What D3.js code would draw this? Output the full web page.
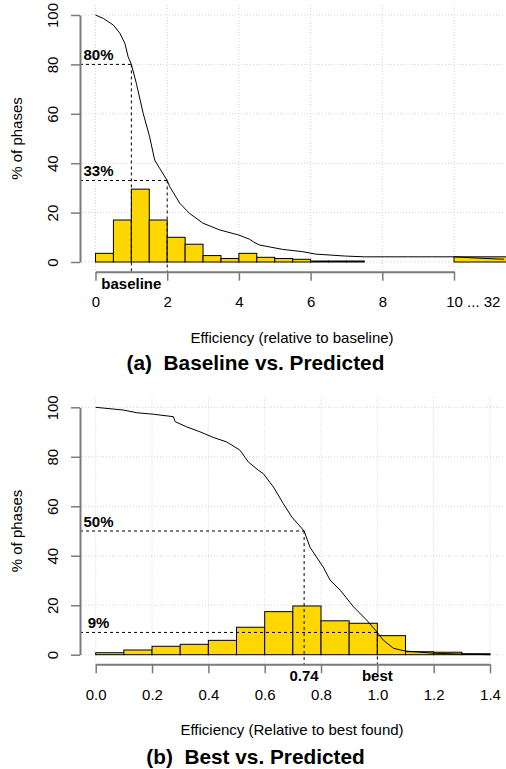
<!DOCTYPE html>
<html>
<head>
<meta charset="utf-8">
<script src="https://cdn.jsdelivr.net/npm/d3@7"></script>
<style>
  html, body { margin: 0; padding: 0; background: #fff; }
  svg { display: block; font-family: "Liberation Sans", Arial, Helvetica, sans-serif; }
</style>
</head>
<body>
<svg id="chart" width="506" height="769"></svg>
<script>
// ---------- Data: panel (a) Baseline vs. Predicted ----------
const histAEdges  = [0,0.5,1,1.5,2,2.5,3,3.5,4,4.5,5,5.5,6,6.5,7,7.5,8,8.5,9,9.5,10,11.5];
const histAValues = [3.5,17,29.5,17,10,7.2,2.6,1.4,3.5,1.9,1.4,1.1,0.4,0.4,0.4,0,0,0,0,0,2.1];
const curveAX = [0,0.22,0.5,0.68,0.82,0.91,1.0,1.14,1.33,1.51,1.65,1.79,2.0,2.07,2.35,2.62,3.0,3.46,4.0,4.3,4.4,4.57,5.22,5.77,6.14,6.97,7.5,10,10.5,11.4];
const curveAY = [100,98.6,95.9,92.6,88.5,83.1,80,72.3,60.2,50.7,41.3,37.9,33,30.5,23.8,19.7,15.7,13,10.9,9.2,8.2,6.9,5.1,4.2,3.2,2.4,2.1,2.1,1.7,1.1];
const xTicksA = [0,2,4,6,8,10];
const xTickLabelsA = ["0","2","4","6","8","10 ... 32"];
const yTicks = [0,20,40,60,80,100];
const markA = [{x:1, y:80, label:"80%"}, {x:2, y:33, label:"33%"}];

// ---------- Data: panel (b) Best vs. Predicted ----------
const histBEdges  = [0,0.1,0.2,0.3,0.4,0.5,0.6,0.7,0.8,0.9,1.0,1.1,1.2,1.3,1.4];
const histBValues = [0.8,1.9,3.4,4.2,5.8,11.1,17.4,19.7,13.7,12.7,7.7,1.2,1.0,0.4];
const curveBX = [0,0.098,0.146,0.205,0.276,0.282,0.323,0.37,0.418,0.465,0.512,0.542,0.577,0.595,0.631,0.666,0.696,0.74,0.761,0.808,0.832,0.868,0.915,0.962,1.0,1.021,1.057,1.098,1.199,1.317,1.4];
const curveBY = [100,98.9,97.8,97.2,96.2,94.2,92.1,90.1,87.8,86,82.7,77.9,74.6,73.2,67.8,61.1,55.7,50,43.4,35.4,30.2,26.1,19.4,14,9,5.9,2.6,1.5,0.6,0.2,0];
const xTicksB = [0,0.2,0.4,0.6,0.8,1.0,1.2,1.4];
const markB = [{x:0.74, y:50, label:"50%"}, {x:1.0, y:9, label:"9%"}];

const svg = d3.select("#chart");
const AXIS_COL = "#7a7a7a";

function panel(cfg) {
  const g = svg.append("g");
  const x = cfg.x, y = cfg.y;
  const clipId = "clip" + cfg.id;
  g.append("clipPath").attr("id", clipId).append("rect")
    .attr("x", cfg.left).attr("y", cfg.top)
    .attr("width", cfg.right - cfg.left).attr("height", cfg.axisY - cfg.top + 1);

  // grid
  const grid = g.append("g").attr("stroke", "#d3d3d3").attr("stroke-width", 1).attr("stroke-dasharray", "1,2");
  grid.selectAll("line.v").data(cfg.xTicks).join("line")
    .attr("x1", d => x(d)).attr("x2", d => x(d))
    .attr("y1", cfg.top).attr("y2", cfg.axisY);
  grid.selectAll("line.h").data(yTicks).join("line")
    .attr("x1", cfg.left + 2).attr("x2", cfg.right - 2)
    .attr("y1", d => y(d)).attr("y2", d => y(d));

  // histogram bars
  const bars = cfg.values.map((v, i) => ({x0: cfg.edges[i], x1: cfg.edges[i + 1], v}));
  g.append("g").attr("clip-path", `url(#${clipId})`)
    .selectAll("rect").data(bars).join("rect")
    .attr("x", d => x(d.x0)).attr("width", d => x(d.x1) - x(d.x0))
    .attr("y", d => y(d.v)).attr("height", d => y(0) - y(d.v))
    .attr("fill", "#FFD700").attr("stroke", "#000").attr("stroke-width", 1);

  // dashed marker lines
  const dash = g.append("g").attr("stroke", "#000").attr("stroke-width", 1).attr("stroke-dasharray", "3,3").attr("fill", "none");
  cfg.marks.forEach(m => {
    dash.append("line").attr("x1", cfg.left).attr("x2", x(m.x)).attr("y1", y(m.y)).attr("y2", y(m.y));
    dash.append("line").attr("x1", x(m.x)).attr("x2", x(m.x)).attr("y1", y(m.y)).attr("y2", cfg.axisY);
  });

  // survival curve
  const pts = cfg.cx.map((d, i) => [d, cfg.cy[i]]);
  g.append("path").attr("clip-path", `url(#${clipId})`)
    .datum(pts)
    .attr("d", d3.line().x(d => x(d[0])).y(d => y(d[1])))
    .attr("fill", "none").attr("stroke", "#000").attr("stroke-width", 1);

  // percent labels
  g.selectAll("text.pct").data(cfg.marks).join("text")
    .attr("x", 98.5).attr("y", d => y(d.y) - 4)
    .attr("text-anchor", "middle").attr("font-size", 15).attr("font-weight", "bold")
    .text(d => d.label);

  // y axis
  const ya = g.append("g").attr("transform", `translate(${cfg.left},0)`)
    .call(d3.axisLeft(y).tickValues(yTicks).tickSize(9).tickSizeOuter(0));
  ya.select(".domain").attr("stroke", AXIS_COL).attr("stroke-width", 2);
  ya.selectAll(".tick line").attr("stroke", AXIS_COL).attr("stroke-width", 1.5);
  ya.selectAll(".tick text")
    .attr("x", null).attr("dy", "0.35em")
    .attr("transform", "translate(-27.5,0) rotate(-90)")
    .attr("text-anchor", "middle").attr("font-size", 15).attr("fill", "#000")
    .attr("font-family", "Liberation Sans, Arial, sans-serif");

  // x axis
  const xa = g.append("g").attr("transform", `translate(0,${cfg.axisY})`)
    .call(d3.axisBottom(x).tickValues(cfg.xTicks).tickSize(9).tickSizeOuter(0)
      .tickFormat((d, i) => cfg.xLabels[i]));
  xa.select(".domain").attr("stroke", AXIS_COL).attr("stroke-width", 2);
  xa.selectAll(".tick line").attr("stroke", AXIS_COL).attr("stroke-width", 1.5);
  xa.selectAll(".tick text")
    .attr("y", 30).attr("dy", "0.35em").attr("font-size", 15).attr("fill", "#000")
    .attr("font-family", "Liberation Sans, Arial, sans-serif");
  if (cfg.id === "a") {
    xa.selectAll(".tick text").filter((d, i) => i === cfg.xTicks.length - 1)
      .attr("text-anchor", "start").attr("x", -8.3);
  }

  // special bold labels under axis
  g.selectAll("text.sp").data(cfg.special).join("text")
    .attr("x", d => x(d.x)).attr("y", cfg.axisY + cfg.specialDy)
    .attr("dy", "0.35em").attr("text-anchor", "middle")
    .attr("font-size", 15).attr("font-weight", "bold").text(d => d.label);

  // y title
  g.append("text")
    .attr("transform", `translate(16.5,${(y(0) + y(100)) / 2}) rotate(-90)`)
    .attr("dy", "0.35em").attr("text-anchor", "middle").attr("font-size", 15)
    .text("% of phases");
  // x title
  g.append("text").attr("x", 292).attr("y", cfg.xTitleY).attr("dy", "0.35em")
    .attr("text-anchor", "middle").attr("font-size", 15).text(cfg.xTitle);
  // main title
  g.append("text").attr("x", 255.5).attr("y", cfg.titleY).attr("dy", "0.35em")
    .attr("text-anchor", "middle").attr("font-size", 20.8).attr("font-weight", "bold")
    .attr("xml:space", "preserve").style("white-space", "pre").text(cfg.title);
}

panel({
  id: "a",
  x: d3.scaleLinear().domain([0, 10]).range([95.5, 454]),
  y: d3.scaleLinear().domain([0, 100]).range([262, 15]),
  left: 80, right: 506, top: 5, axisY: 271.7,
  edges: histAEdges, values: histAValues, cx: curveAX, cy: curveAY,
  xTicks: xTicksA, xLabels: xTickLabelsA, marks: markA,
  special: [{x: 1, label: "baseline"}], specialDy: 12.5,
  xTitle: "Efficiency (relative to baseline)", xTitleY: 338,
  title: "(a)  Baseline vs. Predicted", titleY: 363
});

panel({
  id: "b",
  x: d3.scaleLinear().domain([0, 1.4]).range([95.7, 490]),
  y: d3.scaleLinear().domain([0, 100]).range([654.7, 407.3]),
  left: 80, right: 506, top: 397.5, axisY: 664.3,
  edges: histBEdges, values: histBValues, cx: curveBX, cy: curveBY,
  xTicks: xTicksB, xLabels: xTicksB.map(d => d.toFixed(1)), marks: markB,
  special: [{x: 0.74, label: "0.74"}, {x: 1.0, label: "best"}], specialDy: 11.7,
  xTitle: "Efficiency (Relative to best found)", xTitleY: 730,
  title: "(b)  Best vs. Predicted", titleY: 756.7
});
</script>
</body>
</html>
